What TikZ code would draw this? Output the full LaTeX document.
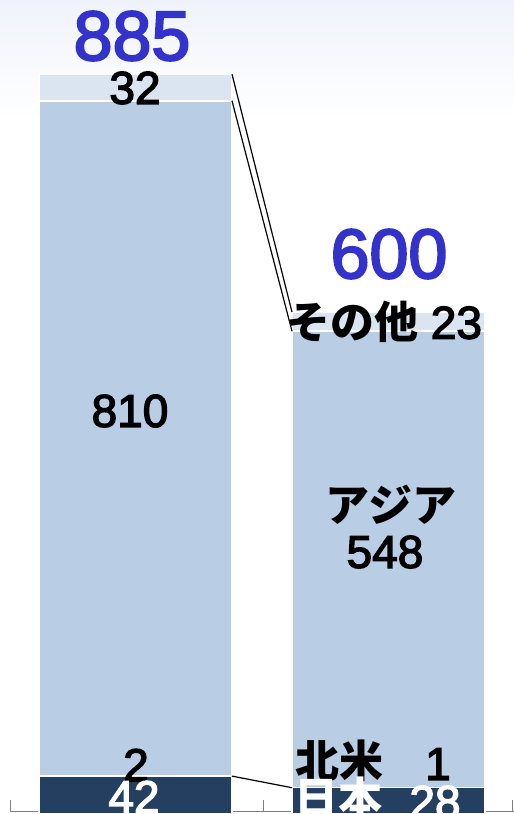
\documentclass[tikz,border=0pt]{standalone}
\usepackage{fontspec}
\setmainfont{Liberation Sans}[UprightFeatures={FakeBold=3}]
\newfontfamily\jp{Noto Sans CJK JP}
\definecolor{asia}{HTML}{B9CDE5}
\definecolor{other}{HTML}{DBE5F1}
\definecolor{japan}{HTML}{243F60}
\definecolor{total}{HTML}{3333CC}
\definecolor{bgtop}{HTML}{EFF3FB}

\begin{document}
\begin{tikzpicture}[x=1pt,y=-1pt,
    seg/.style={draw=white,line width=1.5pt,inner sep=0pt,outer sep=0pt,minimum width=193pt,anchor=south west},
    num/.style={font=\fontsize{46}{46}\selectfont,inner sep=0pt},
    jpn/.style={font=\fontsize{44}{44}\selectfont\jp\bfseries,inner sep=0pt},
    sum/.style={font=\fontsize{70}{70}\selectfont,text=total,inner sep=0pt}]
    \useasboundingbox (0,0) rectangle (514,814);
    \shade[top color=bgtop,bottom color=white] (0,0) rectangle (514,120);

    % axis
    \draw[gray,line width=1pt] (10,811) -- (514,811);
    \foreach \x in {10,263,512}
        \draw[gray,line width=1pt] (\x,800) -- (\x,811);

    % left bar
    \node[seg,fill=japan,minimum height=37.9pt] (japanL) at (39,814) {};
    \node[seg,fill=asia,minimum height=675.3pt] (asiaL) at (39,776.1) {};
    \node[seg,fill=other,minimum height=26.6pt] (otherL) at (39,100.8) {};

    % right bar
    \node[seg,fill=japan,minimum height=26.3pt] (japanR) at (292,814) {};
    \node[seg,fill=asia,minimum height=456.5pt] (asiaR) at (292,787.7) {};
    \node[seg,fill=other,minimum height=19.1pt] (otherR) at (292,331.2) {};

    \draw[line width=1.2pt] (otherL.north east) -- (otherR.north west);
    \draw[line width=1.2pt] (asiaL.north east) -- (asiaR.north west);
    \draw[line width=1.2pt] (japanL.north east) -- (japanR.north west);

    % labels
    \node[sum] (sumL) at (132,36) {885};
    \node[num] (lbl32) at (135,88) {32};
    \node[num] (lbl810) at (130,411) {810};
    \node[num] (lbl2) at (136,765) {2};
    \node[num,text=white] (lbl42) at (134,797) {42};

    \node[sum] (sumR) at (389,254) {600};
    \node[num] (lbl23) at (384,322) {{\jp\bfseries\fontsize{44}{44}\selectfont その他} 23};
    \node[jpn] (lblasia) at (391,505) {アジア};
    \node[num] (lbl548) at (385,552) {548};
    \node[jpn] (lblna) at (339,761) {北米};
    \node[num] (lbl1) at (438,764) {1};
    \node[jpn,text=white] (lbljp) at (338,798) {日本};
    \node[num,text=white] (lbl28) at (435,802) {28};
\end{tikzpicture}
\end{document}
